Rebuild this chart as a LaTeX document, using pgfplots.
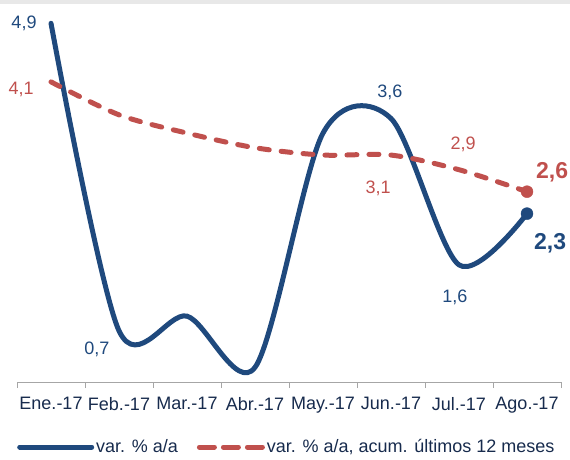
\documentclass[border=0pt]{standalone}
\usepackage{fontspec}
\setmainfont{Liberation Sans}
\usepackage{pgfplots}
\pgfplotsset{compat=1.18}
\definecolor{cblue}{RGB}{31,73,125}
\definecolor{cred}{RGB}{192,80,77}
\definecolor{ctext}{RGB}{23,43,77}
\newcommand{\fs}{\fontsize{18}{21}\selectfont}
\newcommand{\fb}{\bfseries\fontsize{23}{26}\selectfont}
\begin{document}
\begin{tikzpicture}[x=1pt,y=1pt]
\useasboundingbox (0,0) rectangle (570,459);
\fill[gray!18] (0,455) rectangle (570,459);
\begin{axis}[
  at={(17pt,77pt)}, anchor=south west,
  width=544pt, height=377pt, scale only axis,
  xmin=-0.5, xmax=7.5, ymin=0, ymax=5.15,
  clip=false,
  axis y line=none, axis x line*=bottom,
  axis line style={draw=gray!70, line width=1pt},
  xtick={0,...,7},
  xticklabels={Ene.-17,Feb.-17,Mar.-17,Abr.-17,May.-17,Jun.-17,Jul.-17,Ago.-17},
  major tick length=0pt,
  minor xtick={-0.5,0.5,...,7.5},
  minor x tick style={draw=gray!70, line width=1pt},
  tick align=outside, minor tick length=6pt,
  xticklabel style={font=\fs, text=ctext, yshift=-12pt},
  legend columns=2,
  legend cell align=left,
  legend style={draw=none, fill=none, at={(0,0)}, anchor=west,
    xshift=0pt, yshift=-65pt, font=\fs, text=ctext, inner sep=0pt,
    /tikz/every even column/.append style={column sep=17pt}},
]
\addplot[cblue, line width=5pt, smooth, line cap=round,
  legend image code/.code={\draw[cblue, line width=5pt, line cap=round] (0pt,0pt) -- (72pt,0pt);}]
  coordinates {(0,4.9)(1,0.7)(2,0.9)(3,0.2)(4,3.4)(5,3.6)(6,1.6)(7,2.3)};
\addlegendentry{var. \% a/a}
\addplot[cred, line width=5pt, smooth, line cap=round, dash pattern=on 10pt off 12pt,
  legend image code/.code={\draw[cred, line width=5pt, line cap=round, dash pattern=on 15pt off 9pt] (2.5pt,0pt) -- (65.5pt,0pt);}]
  coordinates {(0,4.1)(1,3.65)(2,3.4)(3,3.2)(4,3.1)(5,3.1)(6,2.9)(7,2.6)};
\addlegendentry{var. \% a/a, acum. últimos 12 meses}
\addplot[cblue, only marks, mark=*, mark size=6pt, forget plot] coordinates {(7,2.3)};
\addplot[cred, only marks, mark=*, mark size=6pt, forget plot] coordinates {(7,2.6)};
\node[text=cblue, font=\fs] at (axis cs:-0.397,4.90) {4,9};
\node[text=cred, font=\fs] at (axis cs:-0.441,3.99) {4,1};
\node[text=cblue, font=\fs] at (axis cs:0.676,0.45) {0,7};
\node[text=cblue, font=\fs] at (axis cs:4.985,3.96) {3,6};
\node[text=cred, font=\fs] at (axis cs:4.81,2.65) {3,1};
\node[text=cred, font=\fs] at (axis cs:6.06,3.24) {2,9};
\node[text=cblue, font=\fs] at (axis cs:5.94,1.16) {1,6};
\node[text=cred, font=\fb] at (axis cs:7.37,2.86) {2,6};
\node[text=cblue, font=\fb] at (axis cs:7.34,1.90) {2,3};
\end{axis}
\end{tikzpicture}
\end{document}
